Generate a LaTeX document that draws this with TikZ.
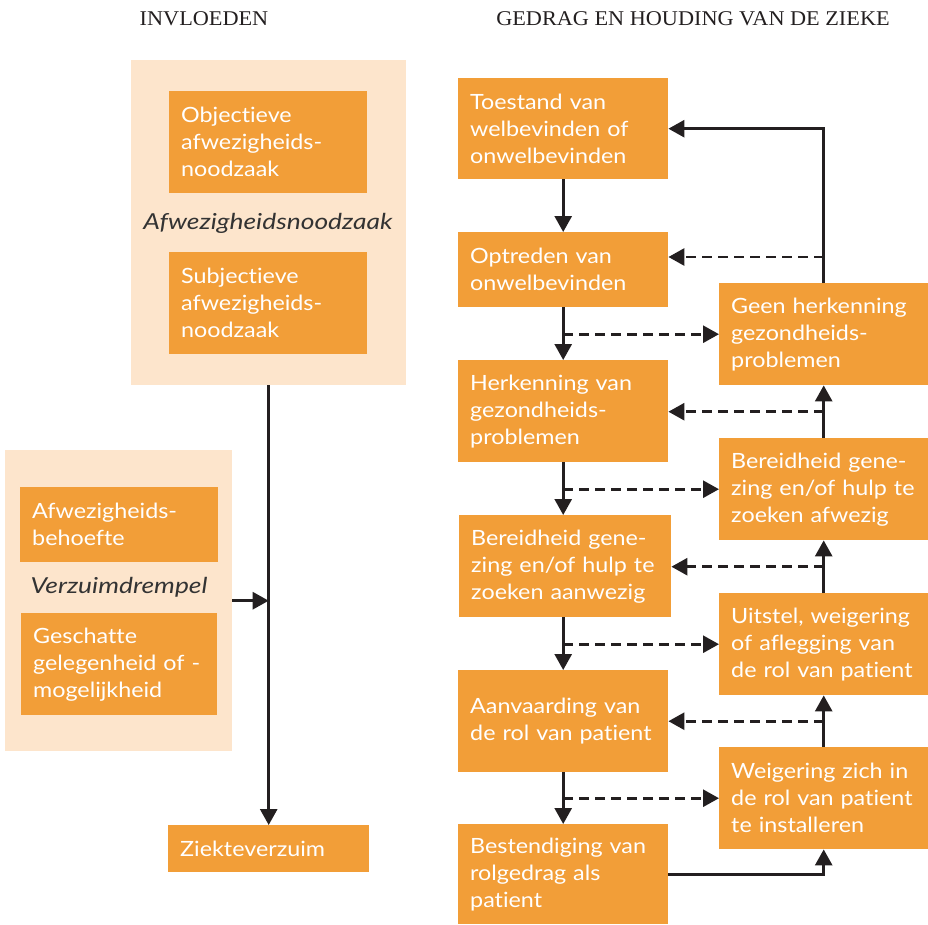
\documentclass[tikz,border=0pt]{standalone}
\usepackage{fontspec}
\setmainfont{Lato}
\newfontfamily\boxfont[FakeStretch=1.11,Ligatures=NoCommon]{Lato}
\newfontfamily\lblfont[FakeStretch=1.2,Ligatures=NoCommon]{Lato Italic}
\newfontfamily\titlefont[FakeStretch=1.06]{Liberation Serif}
\usetikzlibrary{arrows.meta,calc}
\definecolor{orng}{HTML}{F29E38}
\definecolor{peach}{HTML}{FDE5CC}
\definecolor{ink}{HTML}{231F20}
\definecolor{grayink}{HTML}{333333}
\tikzset{
  box/.style={rectangle, fill=orng, text=white, anchor=north west, align=left,
    inner xsep=12pt, inner ysep=0pt, font=\boxfont\fontsize{21}{27}\selectfont},
  panel/.style={rectangle, fill=peach, anchor=north west, inner sep=0pt},
  lbl/.style={text=grayink, font=\lblfont\fontsize{22}{26}\selectfont, inner sep=0pt},
  ttl/.style={text=ink, font=\titlefont\fontsize{21}{24}\selectfont, inner sep=0pt},
  conn/.style={draw=ink, line width=2.8pt, -{Triangle[width=17pt,length=16pt]}},
  dconn/.style={conn, dash pattern=on 10pt off 6pt},
}
\begin{document}
\begin{tikzpicture}[x=1pt,y=-1pt]
\useasboundingbox (0,0) rectangle (928,924);
% titles
\node[ttl] (t1) at (204,19) {INVLOEDEN};
\node[ttl] (t2) at (693,19) {GEDRAG EN HOUDING VAN DE ZIEKE};
% left panels
\node[panel, minimum width=275pt, minimum height=325pt] (p1) at (131,60) {};
\node[panel, minimum width=227pt, minimum height=301pt] (p2) at (5,450) {};
\node[box, text width=174pt, minimum height=102pt] (obj) at (169,91) {Objectieve\\afwezigheids-\\noodzaak};
\node[lbl] (afn) at (268,223) {Afwezigheidsnoodzaak};
\node[box, text width=174pt, minimum height=102pt] (sub) at (169,252) {Subjectieve\\afwezigheids-\\noodzaak};
\node[box, text width=174pt, minimum height=75pt] (awb) at (20,487) {Afwezigheids-\\behoefte};
\node[lbl] (vzd) at (119,587) {Verzuimdrempel};
\node[box, text width=172pt, minimum height=102pt] (ges) at (21,613) {Geschatte\\gelegenheid of -\\mogelijkheid};
\node[box, text width=177pt, minimum height=47pt] (zv) at (168,825) {Ziekteverzuim};
\draw[conn] (p1.south) -- (zv.north);
\draw[conn] (p2.east) -- (p2.east -| zv.north);
% main column
\node[box, text width=186pt, minimum height=101pt] (toe) at (458,78) {Toestand van\\welbevinden of\\onwelbevinden};
\node[box, text width=186pt, minimum height=75pt] (opt) at (458,232) {Optreden van\\onwelbevinden};
\node[box, text width=186pt, minimum height=102pt] (her) at (458,360) {Herkenning van\\gezondheids-\\problemen};
\node[box, text width=188pt, minimum height=102pt] (bra) at (459,515) {Bereidheid gene-\\zing en/of hulp te\\zoeken aanwezig};
\node[box, text width=186pt, minimum height=102pt] (aan) at (458,670) {Aanvaarding van\\de rol van patient};
\node[box, text width=186pt, minimum height=100pt] (bes) at (458,824) {Bestendiging van\\rolgedrag als\\patient};
% right column
\node[box, text width=185pt, minimum height=102pt] (gee) at (719,283) {Geen herkenning\\gezondheids-\\problemen};
\node[box, text width=185pt, minimum height=102pt] (brf) at (719,438) {Bereidheid gene-\\zing en/of hulp te\\zoeken afwezig};
\node[box, text width=185pt, minimum height=102pt] (uit) at (719,593) {Uitstel, weigering\\of aflegging van\\de rol van patient};
\node[box, text width=185pt, minimum height=102pt] (wei) at (719,747) {Weigering zich in\\de rol van patient\\te installeren};
% main flow
\draw[conn] (toe.south) -- (opt.north);
\draw[conn] (opt.south) -- (her.north);
\draw[conn] (her.south) -- (her.south |- bra.north);
\draw[conn] (bra.south -| aan.south) -- (aan.north);
\draw[conn] (aan.south) -- (bes.north);
% dashed branches to the right
\draw[dconn] (gee.west -| opt.south) -- (gee.west);
\draw[dconn] (brf.west -| her.south) -- (brf.west);
\draw[dconn] (uit.west -| aan.north) -- (uit.west);
\draw[dconn] (wei.west -| aan.south) -- (wei.west);
% right column upward
\draw[conn] (bes.east) -| (wei.south);
\draw[conn] (wei.north) -- (uit.south);
\draw[conn] (uit.north) -- (brf.south);
\draw[conn] (brf.north) -- (gee.south);
\draw[conn] (gee.north) |- (toe.east);
% dashed returns to the left
\coordinate (r1) at ([yshift=26pt]gee.north);
\coordinate (r2) at ($(gee.south)!0.5!(brf.north)$);
\coordinate (r3) at ($(brf.south)!0.5!(uit.north)$);
\coordinate (r4) at ($(uit.south)!0.5!(wei.north)$);
\draw[dconn] (r1) -- (r1 -| opt.east);
\draw[dconn] (r2) -- (r2 -| her.east);
\draw[dconn] (r3) -- (r3 -| bra.east);
\draw[dconn] (r4) -- (r4 -| aan.east);
\end{tikzpicture}
\end{document}
